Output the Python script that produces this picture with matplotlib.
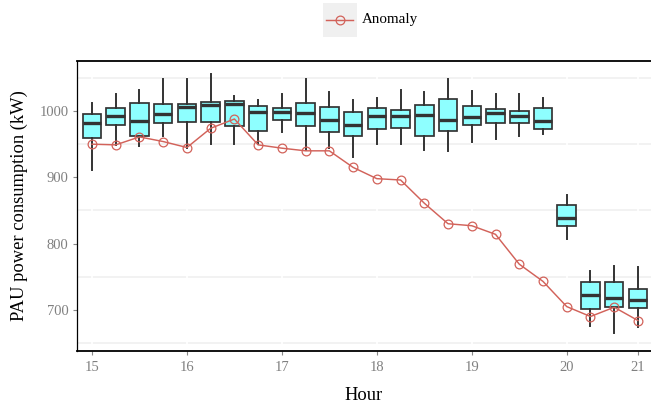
import matplotlib
matplotlib.use("Agg")
import matplotlib.pyplot as plt
from matplotlib.patches import Rectangle
from matplotlib.lines import Line2D

plt.rcParams['font.family'] = ['Liberation Serif', 'DejaVu Serif']

# 15-minute slots from 15:00 to 20:45
slot = list(range(24))
tick_pos = [0, 4, 8, 12, 16, 20, 23]
tick_labels = ['15', '16', '17', '18', '19', '20', '21']

# box statistics (kW)
whis_hi = [1012, 1026, 1032, 1048, 1049, 1056, 1022, 1016, 1025, 1048, 1028, 1016,
           1020, 1032, 1029, 1048, 1031, 1026, 1026, 1020, 874, 758, 766, 765]
q3 = [995, 1005, 1012, 1010, 1011, 1014, 1015, 1008, 1005, 1012, 1006, 998,
      1004, 1001, 1009, 1018, 1008, 1003, 1000, 1005, 858, 742, 742, 732]
median = [982, 993, 985, 996, 1006, 1009, 1010, 998, 999, 997, 986, 979,
          993, 993, 994, 986, 991, 997, 993, 985, 839, 723, 718, 715]
q1 = [960, 979, 963, 982, 983, 983, 978, 970, 986, 978, 969, 963,
      973, 975, 962, 970, 979, 982, 982, 973, 826, 702, 705, 703]
whis_lo = [911, 949, 947, 962, 945, 950, 951, 951, 968, 941, 944, 931,
           951, 950, 942, 940, 953, 958, 963, 966, 807, 675, 665, 674]

anomaly = [950, 949, 961, 954, 945, 974, 988, 949, 944, 940, 940, 915,
           898, 896, 861, 830, 827, 814, 769, 743, 705, 690, 704, 684]

fig = plt.figure(figsize=(6.51, 4.07), dpi=100)
ax = fig.add_axes([0.1183, 0.1376, 0.8817, 0.7133])

# background grid
for v in [650, 750, 850, 950, 1050]:
    ax.axhline(v, color='#EFEFEF', lw=1.1, zorder=0)
for p in tick_pos:
    ax.axvline(p, color='white', lw=1.3, zorder=0.5)

stats = []
for i in slot:
    stats.append(dict(med=median[i], q1=q1[i], q3=q3[i],
                      whislo=whis_lo[i], whishi=whis_hi[i], fliers=[]))

ax.bxp(stats, positions=slot, widths=0.78, patch_artist=True, showcaps=False,
       showfliers=False,
       boxprops=dict(facecolor='#8EFFFF', edgecolor='#333333', linewidth=1.25),
       whiskerprops=dict(color='#333333', linewidth=1.4),
       medianprops=dict(color='#333333', linewidth=2.4),
       zorder=2)

red = '#D2625A'
ax.plot(slot, anomaly, color=red, lw=1.05, marker='o', markersize=6.3,
        markerfacecolor='none', markeredgecolor=red, markeredgewidth=0.9, zorder=3)

ax.set_xlim(-0.63, 23.55)
ax.set_ylim(638, 1076)
ax.set_xticks(tick_pos)
ax.set_xticklabels(tick_labels)
ax.set_yticks([700, 800, 900, 1000])

ax.tick_params(axis='both', colors='#888888', labelsize=10.5, length=3, width=0.8,
               labelcolor='#808080', pad=3)
ax.tick_params(axis='x', pad=4.5)

for s in ['top', 'bottom']:
    ax.spines[s].set_linewidth(1.3)
    ax.spines[s].set_color('black')
ax.spines['left'].set_linewidth(0.9)
ax.spines['right'].set_visible(False)

ax.set_xlabel('Hour', fontsize=13.3, labelpad=9)
ax.set_ylabel('PAU power consumption (kW)', fontsize=13.3, labelpad=8)

# legend drawn at the top
fig.add_artist(Rectangle((323 / 651, 1 - 37 / 407), 34 / 651, 34 / 407,
                         transform=fig.transFigure, facecolor='#F0F0F0',
                         edgecolor='none'))
fig.add_artist(Line2D([326 / 651, 353 / 651], [1 - 20 / 407, 1 - 20 / 407],
                      transform=fig.transFigure, color=red, lw=1.05))
fig.add_artist(Line2D([339.5 / 651], [1 - 20 / 407], transform=fig.transFigure,
                      marker='o', markersize=6.3, markerfacecolor='none',
                      markeredgecolor=red, markeredgewidth=0.9, linestyle='none'))
fig.text(362 / 651, 1 - 20 / 407, 'Anomaly', fontsize=10.8, va='center', ha='left')

fig.savefig('out.png', dpi=100)
